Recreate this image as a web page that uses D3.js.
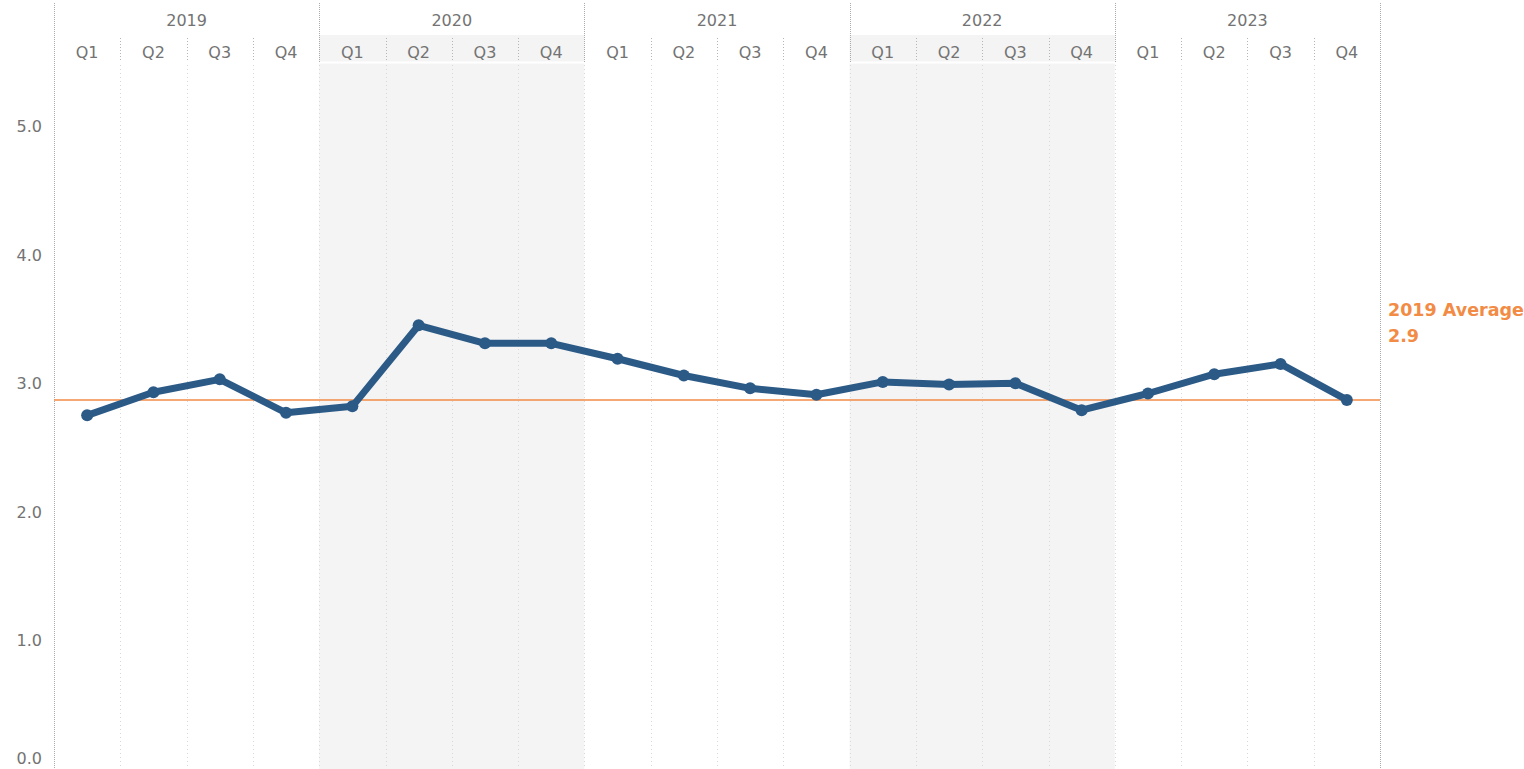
<!DOCTYPE html>
<meta charset="utf-8">
<style>
  body { margin: 0; background: #fff; }
  svg { font-family: "Century Gothic", "DejaVu Sans", sans-serif; }
  .lbl { fill: #737373; font-size: 16px; }
  .avg { fill: #f28b45; font-size: 17.5px; font-weight: bold; }
</style>
<body>
<script src="https://cdn.jsdelivr.net/npm/d3@7"></script>
<script>
  var years = ["2019", "2020", "2021", "2022", "2023"];
  var quarters = ["Q1", "Q2", "Q3", "Q4"];
  var values = [2.75, 2.93, 3.03, 2.77,
                2.82, 3.45, 3.31, 3.31,
                3.19, 3.06, 2.96, 2.91,
                3.01, 2.99, 3.00, 2.79,
                2.92, 3.07, 3.15, 2.87];
  var yTicks = [0, 1, 2, 3, 4, 5];
  var shadedYears = ["2020", "2022"];
  var avgLabel = ["2019 Average", "2.9"];

  var width = 1524, height = 769;
  var left = 54, right = 1380, plotTop = 63, bottom = 769;

  var data = [];
  years.forEach(function (y, i) {
    quarters.forEach(function (q, j) {
      data.push({ key: y + "-" + q, year: y, q: q, v: values[i * 4 + j] });
    });
  });
  var avg = d3.mean(data.filter(function (d) { return d.year === "2019"; }), function (d) { return d.v; });

  var x = d3.scaleBand().domain(data.map(function (d) { return d.key; })).range([left, right]);
  var xYear = d3.scaleBand().domain(years).range([left, right]);
  var y = d3.scaleLinear().domain([0, 5.49]).range([bottom, plotTop]);

  var svg = d3.select("body").append("svg")
    .attr("width", width)
    .attr("height", height);

  // shaded year bands
  svg.selectAll(".band")
    .data(shadedYears)
    .enter().append("rect")
    .attr("x", function (d) { return xYear(d); })
    .attr("y", 35)
    .attr("width", xYear.bandwidth())
    .attr("height", bottom - 35)
    .attr("fill", "#f4f4f4");
  // white separator between header and plot
  svg.append("line")
    .attr("x1", left).attr("x2", right)
    .attr("y1", plotTop - 0.5).attr("y2", plotTop - 0.5)
    .attr("stroke", "#fff").attr("stroke-width", 2);

  // quarter gridlines in plot
  svg.selectAll(".qgrid")
    .data(data.slice(1))
    .enter().append("line")
    .attr("x1", function (d) { return Math.round(x(d.key)) + 0.5; })
    .attr("x2", function (d) { return Math.round(x(d.key)) + 0.5; })
    .attr("y1", plotTop + 2).attr("y2", bottom)
    .attr("stroke", "#d8d8d8")
    .attr("stroke-dasharray", "1,3");

  // quarter separators in header
  svg.selectAll(".qsep")
    .data(data.filter(function (d) { return d.q !== "Q1"; }))
    .enter().append("line")
    .attr("x1", function (d) { return Math.round(x(d.key)) + 0.5; })
    .attr("x2", function (d) { return Math.round(x(d.key)) + 0.5; })
    .attr("y1", 38).attr("y2", 62)
    .attr("stroke", "#b5b5b5")
    .attr("stroke-dasharray", "1,2");

  // year boundaries
  var bounds = years.map(function (d) { return xYear(d); }).concat([right]);
  svg.selectAll(".ysep")
    .data(bounds)
    .enter().append("line")
    .attr("x1", function (d) { return Math.round(d) + 0.5; })
    .attr("x2", function (d) { return Math.round(d) + 0.5; })
    .attr("y1", 3)
    .attr("y2", function (d, i) { return (i === 0 || i === bounds.length - 1) ? bottom : 62; })
    .attr("stroke", "#aaa")
    .attr("stroke-dasharray", "1,1");

  // header labels
  svg.selectAll(".yl")
    .data(years)
    .enter().append("text")
    .attr("class", "lbl")
    .attr("x", function (d) { return xYear(d) + xYear.bandwidth() / 2; })
    .attr("y", 26)
    .attr("text-anchor", "middle")
    .text(function (d) { return d; });

  svg.selectAll(".ql")
    .data(data)
    .enter().append("text")
    .attr("class", "lbl")
    .attr("x", function (d) { return x(d.key) + x.bandwidth() / 2; })
    .attr("y", 58)
    .attr("text-anchor", "middle")
    .text(function (d) { return d.q; });

  // y axis labels
  svg.selectAll(".yt")
    .data(yTicks)
    .enter().append("text")
    .attr("class", "lbl")
    .attr("x", 42)
    .attr("y", function (d) { return Math.min(y(d) + 6, 764); })
    .attr("text-anchor", "end")
    .text(function (d) { return d3.format(".1f")(d); });

  // average line
  svg.append("line")
    .attr("x1", left).attr("x2", right)
    .attr("y1", y(avg)).attr("y2", y(avg))
    .attr("stroke", "#f28b45")
    .attr("stroke-width", 1.5);

  var line = d3.line()
    .x(function (d) { return x(d.key) + x.bandwidth() / 2; })
    .y(function (d) { return y(d.v); });

  svg.append("path")
    .datum(data)
    .attr("fill", "none")
    .attr("stroke", "#2c5a87")
    .attr("stroke-width", 7)
    .attr("stroke-linejoin", "round")
    .attr("d", line);

  svg.selectAll(".pt")
    .data(data)
    .enter().append("circle")
    .attr("cx", function (d) { return x(d.key) + x.bandwidth() / 2; })
    .attr("cy", function (d) { return y(d.v); })
    .attr("r", 6)
    .attr("fill", "#2c5a87");

  svg.selectAll(".avgl")
    .data(avgLabel)
    .enter().append("text")
    .attr("class", "avg")
    .attr("x", 1388)
    .attr("y", function (d, i) { return 316 + i * 26; })
    .text(function (d) { return d; });
</script>
</body>
